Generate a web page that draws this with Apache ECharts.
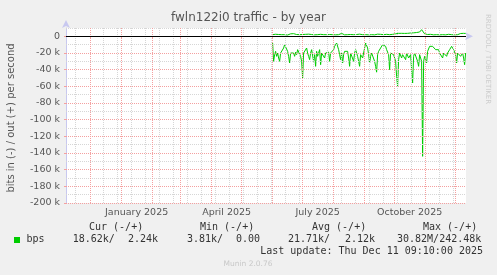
<!DOCTYPE html>
<html>
<head>
<meta charset="utf-8">
<script src="https://cdn.jsdelivr.net/npm/echarts@6/dist/echarts.min.js"></script>
<style>
html,body{margin:0;padding:0;background:#f0f0f0;}
#c{width:497px;height:275px;}
</style>
</head>
<body>
<div id="c"></div>
<script>
// ---- data ----
const titleText = 'fwln122i0 traffic - by year';
const yAxisName = 'bits in (-) / out (+) per second';
const rangeStart = '2024-11-06T09:10:00Z';
const rangeEnd = '2025-12-11T09:10:00Z';
const seriesStart = '2025-06-01'; // first daily sample
// bits in (shown negative), thousands of bits/s, one value per day
const inValues = [
 -8,-30,-22,-18,-24,-20,-26,-30,-20,-18,
 -22,-14,-10,-8,-9,-18,-24,-32,-20,-18,
 -22,-20,-24,-19,-22,-16,-18,-17,-24,-30,
 -50,-20,-18,-22,-14,-20,-24,-28,-20,-16,
 -18,-30,-22,-36,-18,-24,-20,-16,-34,-20,
 -18,-22,-26,-20,-18,-22,-19,-30,-20,-18,
 -22,-16,-12,-10,-8,-9,-16,-22,-28,-20,
 -32,-22,-18,-20,-16,-18,-26,-36,-20,-18,
 -22,-30,-20,-16,-18,-24,-30,-36,-22,-20,
 -26,-28,-14,-8,-10,-14,-22,-32,-24,-20,
 -18,-22,-30,-36,-43,-22,-18,-20,-14,-12,
 -10,-9,-10,-12,-16,-18,-22,-40,-20,-22,
 -20,-22,-20,-30,-48,-60,-28,-20,-22,-26,
 -22,-20,-24,-28,-20,-22,-26,-28,-22,-40,
 -56,-24,-20,-22,-20,-30,-36,-22,-20,-30,
 -144,-30,-24,-28,-32,-18,-16,-12,-10,-14,
 -12,-12,-14,-16,-14,-18,-16,-20,-18,-22,
 -26,-20,-18,-22,-24,-20,-18,-16,-14,-12,
 -13,-16,-14,-22,-32,-20,-18,-20,-24,-22,
 -20,-26,-34,-20
];
// bits out (positive), thousands of bits/s, one value per day
const outValues = [
 2,1.5,2,2.5,2,1.8,2.2,2,1.6,2,
 2.2,1.8,2,2.4,2,1.6,2,2.2,3,4,
 5,3.2,2,1.8,2.2,2,2.4,2,1.8,2,
 2.2,1.6,2,2.4,3,3.9,2.6,2,1.8,2.2,
 2,2.4,1.8,2,2.2,2,1.6,2,2.4,2,
 1.8,2,2.2,2.6,2,1.8,2,2.2,2,1.6,
 2,2.4,2,1.8,2.2,2.6,2,2.4,3,3.5,
 2.2,2,1.8,2,2.4,2,1.6,2,2.2,2,
 1.8,2,2.4,2,2.2,1.8,2,2.6,2,2.2,
 2,1.8,2.2,2,2.4,2,1.8,2,2.2,2,
 2.4,2,1.8,2,2.2,2.6,3,3,2.4,2,
 1.8,2,2.2,2,2.4,2,1.8,2,2.2,2.6,
 2.4,2,2.6,3,3.4,3.5,3.6,3.4,3.5,3.6,
 3.4,3.6,3.5,3.6,3.8,3.6,3.8,3.7,4,4.2,
 4,4.2,4.4,4.5,4.6,4.8,5,5.2,6,8,
 9.5,6,3,2.4,2,2.2,1.8,2,2.4,2,
 2.2,1.8,2,2.2,2,2.4,2,1.8,2,2.2,
 2,2.4,2,1.8,2.2,2,2.4,2,1.8,2,
 2.2,2,1.8,2,2.2,2,2.4,3,3.4,3.5,
 3.2,3.6,3,3.4
];
const yTicks = [0,-20000,-40000,-60000,-80000,-100000,-120000,-140000,-160000,-180000,-200000];
const yMinorTicks = [10000,-10000,-30000,-50000,-70000,-90000,-110000,-130000,-150000,-170000,-190000];
const xLabelDates = ['2025-01-16','2025-04-16','2025-07-16','2025-10-16'];
const xLabels = ['January 2025','April 2025','July 2025','October 2025'];
const monthStarts = ['2024-12-01','2025-01-01','2025-02-01','2025-03-01','2025-04-01','2025-05-01','2025-06-01','2025-07-01','2025-08-01','2025-09-01','2025-10-01','2025-11-01','2025-12-01'];
const minorGridDates = ['2024-11-16','2024-12-14','2024-12-28','2025-01-11','2025-01-25','2025-02-08','2025-02-22','2025-03-08','2025-03-22','2025-04-05','2025-04-19','2025-05-03','2025-05-17','2025-05-31','2025-06-14','2025-06-28','2025-07-12','2025-07-26','2025-08-09','2025-08-23','2025-09-06','2025-09-20','2025-10-04','2025-10-18','2025-11-15','2025-11-29'];
const legendName = 'bps';
const legendHeader = ['Cur (-/+)','Min (-/+)','Avg (-/+)','Max (-/+)'];
const legendValues = ['18.62k/','2.24k','3.81k/','0.00','21.71k/','2.12k','30.82M/242.48k'];
const lastUpdate = 'Last update: Thu Dec 11 09:10:00 2025';
const footer = 'Munin 2.0.76';
const sideText = 'RRDTOOL / TOBI OETIKER';

// ---- build ----
const t = s => Date.parse(s.length === 10 ? s + 'T00:00:00Z' : s);
const DAY = 86400000;
const t0 = t(seriesStart);
const inData = inValues.map((v, i) => [t0 + i * DAY, v * 1000]);
const outData = outValues.map((v, i) => [t0 + i * DAY, v * 1000]);
const xLabelTs = xLabelDates.map(t);

const GREEN = '#00cc00';
const MGRID = '#f4a0a0';
const GRID = '#d6d6d6';
const TXT = '#555555';
const MONO = '"DejaVu Sans Mono", monospace';
const SANS = '"DejaVu Sans", sans-serif';

const gridLines = [];
minorGridDates.forEach(d => gridLines.push({xAxis: t(d), lineStyle: {color: GRID, type: [1, 1], width: 1}}));
yMinorTicks.forEach(v => gridLines.push({yAxis: v, lineStyle: {color: GRID, type: [1, 1], width: 1}}));
monthStarts.forEach(d => gridLines.push({xAxis: t(d), lineStyle: {color: MGRID, type: [1, 1], width: 1}}));
yTicks.filter(v => v !== 0).forEach(v => gridLines.push({yAxis: v, lineStyle: {color: MGRID, type: [1, 1], width: 1}}));

const legendY = 239.5;
const graphic = [
  {type: 'rect', shape: {x: 14, y: 237, width: 6, height: 6}, style: {fill: GREEN}},
  {type: 'text', x: 26.5, y: legendY, style: {text: legendName, font: '10px ' + MONO, fill: '#333', textVerticalAlign: 'middle'}},
];
const headerX = [89, 200, 312, 423];
legendHeader.forEach((h, i) => graphic.push({type: 'text', x: headerX[i], y: 227.7, style: {text: h, font: '10px ' + MONO, fill: '#333', textVerticalAlign: 'middle'}}));
const valX = [72.7, 128, 187, 236, 288, 345, 397];
legendValues.forEach((s, i) => graphic.push({type: 'text', x: valX[i], y: legendY, style: {text: s, font: '10px ' + MONO, fill: '#333', textVerticalAlign: 'middle'}}));
graphic.push({type: 'text', x: 483, y: 251, style: {text: lastUpdate, font: '10px ' + MONO, fill: '#333', textAlign: 'right', textVerticalAlign: 'middle'}});
graphic.push({type: 'text', x: 248, y: 264.3, style: {text: footer, font: '7.5px ' + SANS, fill: '#c8c8c8', textAlign: 'center', textVerticalAlign: 'middle'}});
graphic.push({type: 'text', x: 488, y: 14, rotation: -Math.PI / 2, style: {text: sideText, font: '7px ' + SANS, fill: '#cccccc', textAlign: 'left', textVerticalAlign: 'middle'}});
graphic.push({type: 'text', x: 11, y: 118, rotation: Math.PI / 2, style: {text: yAxisName, font: '10px ' + SANS, fill: TXT, textAlign: 'center', textVerticalAlign: 'middle'}});

const chart = echarts.init(document.getElementById('c'), null, {renderer: 'canvas'});
chart.setOption({
  animation: false,
  backgroundColor: '#f0f0f0',
  title: {text: titleText, left: 'center', top: 12, padding: 0,
    textStyle: {fontFamily: SANS, fontSize: 12, fontWeight: 'normal', color: TXT}},
  grid: {left: 66, top: 28, width: 400, height: 175, show: true, backgroundColor: '#ffffff', borderWidth: 0},
  xAxis: {
    type: 'value', min: t(rangeStart), max: t(rangeEnd), scale: true,
    axisLine: {show: true, lineStyle: {color: '#c8c8f0', width: 1}, symbol: ['none', 'arrow'], symbolSize: [6, 8], symbolOffset: [0, 7]},
    axisTick: {show: true, customValues: monthStarts.map(t), length: 2, lineStyle: {color: MGRID}},
    axisLabel: {customValues: xLabelTs, margin: 5, fontFamily: SANS, fontSize: 9.5, color: TXT,
      formatter: v => { const i = xLabelTs.indexOf(v); return i >= 0 ? xLabels[i] : ''; }},
    splitLine: {show: false}
  },
  yAxis: {
    type: 'value', min: -200000, max: 10000, interval: 10000,
    axisLine: {show: true, lineStyle: {color: '#c8c8f0', width: 1}, symbol: ['none', 'arrow'], symbolSize: [6, 8], symbolOffset: [0, 8]},
    axisTick: {show: true, customValues: yTicks, length: 2, lineStyle: {color: MGRID}},
    axisLabel: {customValues: yTicks, margin: 6, fontFamily: SANS, fontSize: 9.5, color: TXT,
      formatter: v => v === 0 ? '0' : (v / 1000) + ' k'},
    splitLine: {show: false}
  },
  graphic: graphic,
  series: [
    {type: 'line', data: [], z: 1, silent: true,
      markLine: {silent: true, symbol: ['none', 'none'], label: {show: false}, animation: false, data: gridLines}},
    {type: 'line', data: [], z: 2, silent: true,
      markLine: {silent: true, symbol: ['none', 'none'], label: {show: false}, animation: false,
        data: [{yAxis: 0, lineStyle: {color: '#000000', type: 'solid', width: 1}}]}},
    {name: 'in', type: 'line', data: inData, z: 3, showSymbol: false, symbol: 'none',
      lineStyle: {color: GREEN, width: 1}, itemStyle: {color: GREEN}},
    {name: 'out', type: 'line', data: outData, z: 3, showSymbol: false, symbol: 'none',
      lineStyle: {color: GREEN, width: 1}, itemStyle: {color: GREEN}}
  ]
});
</script>
</body>
</html>
